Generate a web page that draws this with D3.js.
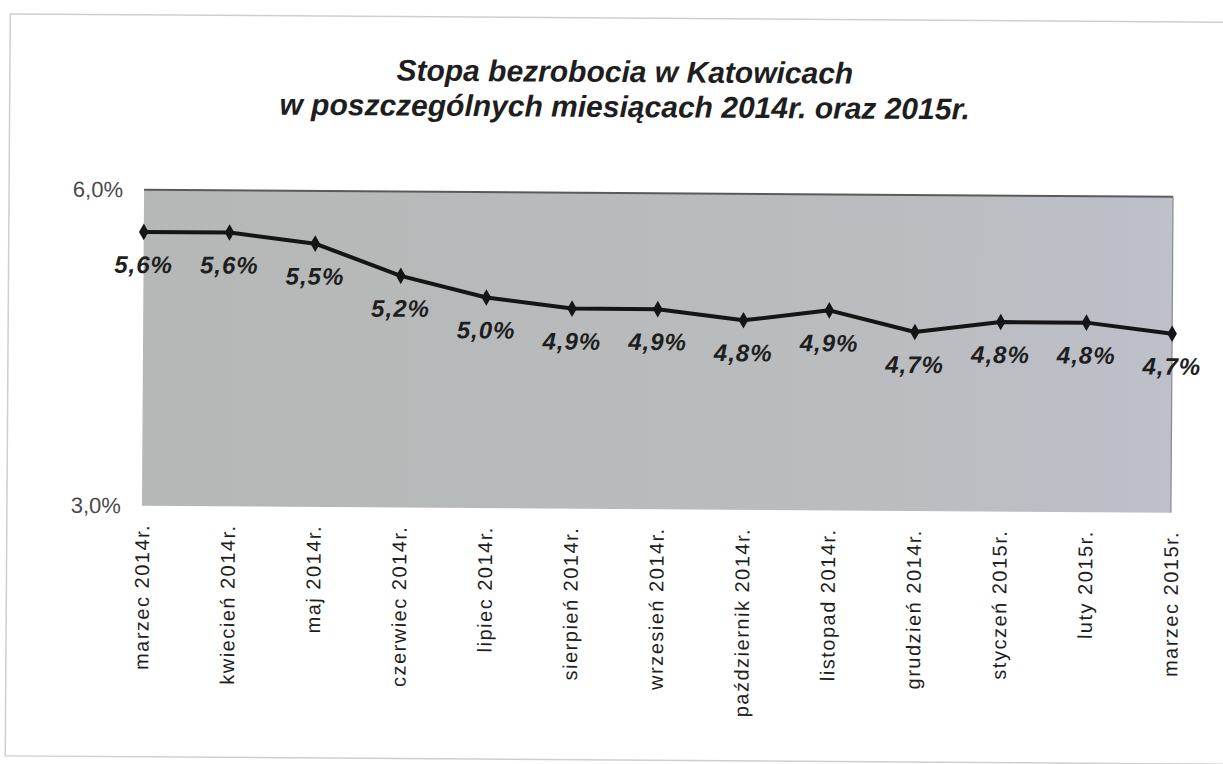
<!DOCTYPE html>
<html>
<head>
<meta charset="utf-8">
<script src="https://cdn.jsdelivr.net/npm/d3@7"></script>
<style>
  body { margin: 0; background: #fff; }
  svg { display: block; }
</style>
</head>
<body>
<script>
// months shown on the x axis
var months = ["marzec 2014r.", "kwiecień 2014r.", "maj 2014r.", "czerwiec 2014r.",
              "lipiec 2014r.", "sierpień 2014r.", "wrzesień 2014r.", "październik 2014r.",
              "listopad 2014r.", "grudzień 2014r.", "styczeń 2015r.", "luty 2015r.", "marzec 2015r."];

// unemployment rate in %
var rates = [5.6, 5.6, 5.5, 5.2, 5.0, 4.9, 4.9, 4.8, 4.9, 4.7, 4.8, 4.8, 4.7];

// y axis ticks
var yTicks = [3.0, 6.0];

var titleLines = ["Stopa bezrobocia w Katowicach",
                  "w poszczególnych miesiącach 2014r. oraz 2015r."];

var W = 1223, H = 764;
var plot = {left: 143, right: 1172, top: 193, bottom: 509};

var fmt = function(v){ return v.toFixed(1).replace(".", ",") + "%"; };

var svg = d3.select("body").append("svg")
    .attr("width", W)
    .attr("height", H);

var defs = svg.append("defs");
var grad = defs.append("linearGradient").attr("id", "bg");
grad.append("stop").attr("offset", "0%").attr("stop-color", "#b5b8b6");
grad.append("stop").attr("offset", "70%").attr("stop-color", "#babcbf");
grad.append("stop").attr("offset", "100%").attr("stop-color", "#bec0ca");

// the scan is slightly tilted
var root = svg.append("g")
    .attr("transform", "rotate(0.39, 612, 350)");

// outer frame
root.append("rect")
    .attr("x", 8).attr("y", 18)
    .attr("width", 1240).attr("height", 742)
    .attr("fill", "none")
    .attr("stroke", "#cfcfcf")
    .attr("stroke-width", 1.5);

var x = d3.scalePoint()
    .domain(months)
    .range([plot.left, plot.right]);

var y = d3.scaleLinear()
    .domain([3, 6])
    .range([plot.bottom, plot.top]);

// title
root.append("g").selectAll("text")
    .data(titleLines)
    .enter().append("text")
    .attr("x", 623)
    .attr("y", function(d, i){ return 82 + i * 35; })
    .attr("text-anchor", "middle")
    .style("font-family", "Liberation Sans, Arial, sans-serif")
    .style("font-weight", "bold")
    .style("font-style", "italic")
    .style("font-size", "30px")
    .style("fill", "#1e1e1e")
    .text(function(d){ return d; });

// plot area
root.append("rect")
    .attr("x", plot.left)
    .attr("y", plot.top)
    .attr("width", plot.right - plot.left)
    .attr("height", plot.bottom - plot.top)
    .attr("fill", "url(#bg)");

root.append("line")
    .attr("x1", plot.left).attr("x2", plot.right)
    .attr("y1", plot.top).attr("y2", plot.top)
    .attr("stroke", "#5a5a5a").attr("stroke-width", 2);

root.append("line")
    .attr("x1", plot.right).attr("x2", plot.right)
    .attr("y1", plot.top).attr("y2", plot.bottom)
    .attr("stroke", "#8a8a8a").attr("stroke-width", 1.2);

// y axis (labels only)
var yAxis = root.append("g")
    .attr("transform", "translate(" + plot.left + ",0)")
    .call(d3.axisLeft(y).tickValues(yTicks).tickSize(0).tickPadding(21).tickFormat(fmt));
yAxis.select(".domain").remove();
yAxis.selectAll("text")
    .style("font-family", "Liberation Sans, Arial, sans-serif")
    .style("font-size", "22px")
    .style("fill", "#4a4a4a");

// x axis (rotated labels)
var xAxis = root.append("g")
    .attr("transform", "translate(0," + plot.bottom + ")")
    .call(d3.axisBottom(x).tickSize(0));
xAxis.select(".domain").remove();
xAxis.selectAll("text")
    .attr("transform", "rotate(-90)")
    .attr("x", -18)
    .attr("y", 0)
    .attr("dy", "0.35em")
    .attr("text-anchor", "end")
    .style("font-family", "Liberation Sans, Arial, sans-serif")
    .style("font-size", "20px")
    .style("letter-spacing", "1.5px")
    .style("fill", "#1e1e1e");

// line
var line = d3.line()
    .x(function(d, i){ return x(months[i]); })
    .y(function(d){ return y(d); });

root.append("path")
    .datum(rates)
    .attr("d", line)
    .attr("fill", "none")
    .attr("stroke", "#151515")
    .attr("stroke-width", 4)
    .attr("stroke-linejoin", "round");

// diamond markers
root.append("g").selectAll("path")
    .data(rates)
    .enter().append("path")
    .attr("d", d3.symbol().type(d3.symbolDiamond).size(80))
    .attr("transform", function(d, i){ return "translate(" + x(months[i]) + "," + y(d) + ")"; })
    .attr("fill", "#151515");

// data labels
root.append("g").selectAll("text")
    .data(rates)
    .enter().append("text")
    .attr("x", function(d, i){ return x(months[i]); })
    .attr("y", function(d){ return y(d) + 41; })
    .attr("text-anchor", "middle")
    .style("font-family", "Liberation Sans, Arial, sans-serif")
    .style("font-weight", "bold")
    .style("font-style", "italic")
    .style("font-size", "24px")
    .style("letter-spacing", "1px")
    .style("fill", "#1e1e1e")
    .text(fmt);
</script>
</body>
</html>
